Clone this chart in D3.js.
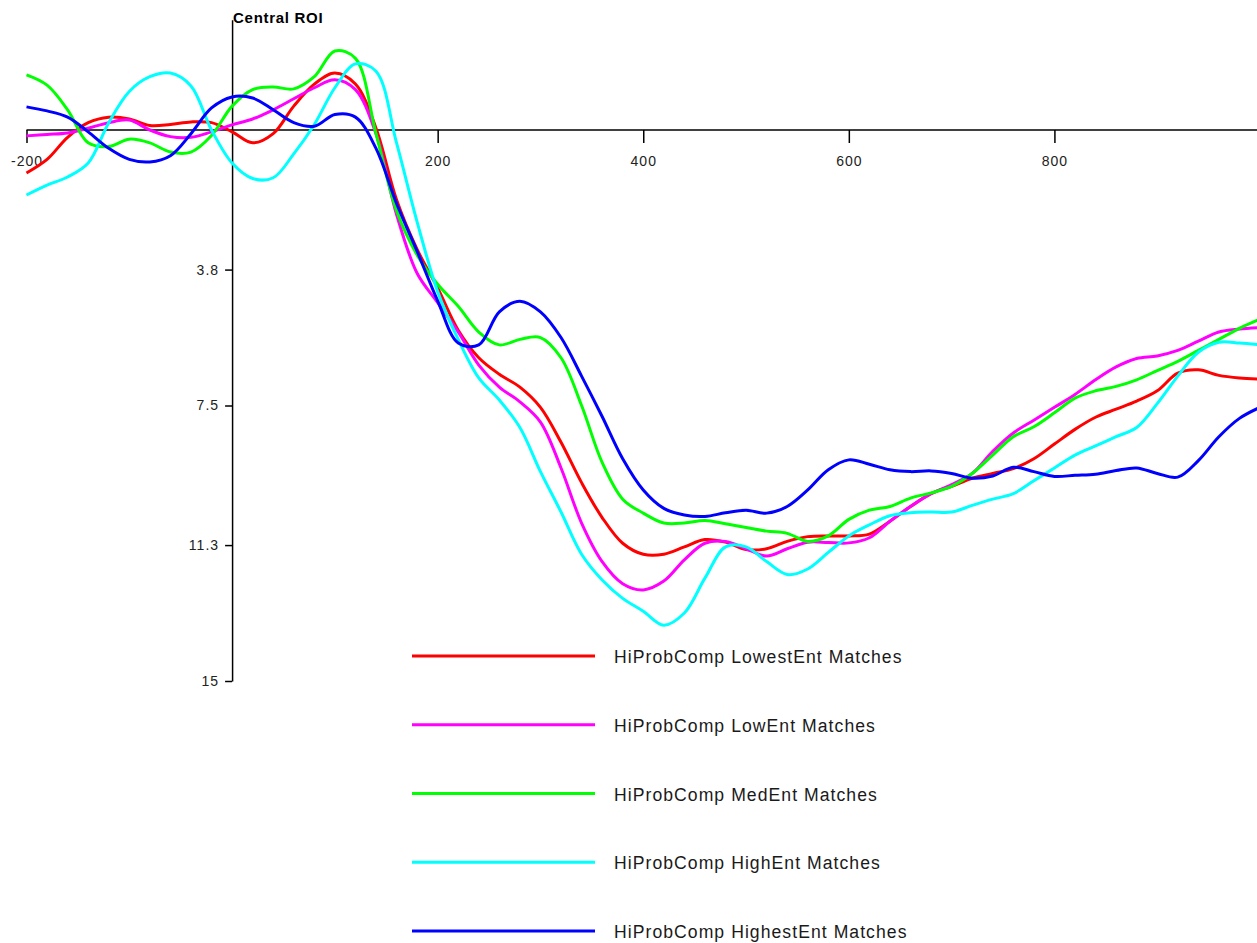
<!DOCTYPE html>
<html>
<head>
<meta charset="utf-8">
<script src="https://cdn.jsdelivr.net/npm/d3@7/dist/d3.min.js"></script>
<style>
  html, body { margin: 0; padding: 0; background: #fff; }
  svg { display: block; font-family: "Liberation Sans", Arial, Helvetica, sans-serif; }
</style>
</head>
<body>
<svg id="chart" width="1257" height="943"></svg>
<script>
// Sample times (ms), one value per 20 ms
const times = d3.range(-200, 1001, 20);

const seriesNames = [
  "HiProbComp LowestEnt Matches",
  "HiProbComp LowEnt Matches",
  "HiProbComp MedEnt Matches",
  "HiProbComp HighEnt Matches",
  "HiProbComp HighestEnt Matches"
];
const seriesColors = ["#ff0000", "#ff00ff", "#00ff00", "#00ffff", "#0000ff"];

// Amplitudes (µV), positive plotted downward
const lowestEnt = [1.17, 0.8, 0.2, -0.2, -0.35, -0.3, -0.12, -0.15, -0.22, -0.2,
  0.05, 0.35, 0.1, -0.65, -1.25, -1.55, -1.25, -0.05, 1.9, 3.25,
  4.3, 5.45, 6.2, 6.65, 7.0, 7.55, 8.5, 9.6, 10.55, 11.25,
  11.55, 11.55, 11.35, 11.15, 11.22, 11.42, 11.4, 11.2, 11.07, 11.05,
  11.05, 11.0, 10.65, 10.25, 9.9, 9.7, 9.48, 9.35, 9.22, 8.95,
  8.55, 8.15, 7.82, 7.6, 7.38, 7.1, 6.62, 6.53, 6.68, 6.75, 6.78];

const lowEnt = [0.16, 0.12, 0.08, -0.05, -0.2, -0.27, 0.0, 0.18, 0.2, 0.05,
  -0.14, -0.3, -0.55, -0.85, -1.15, -1.37, -1.1, 0.1, 2.3, 3.9,
  4.7, 5.5, 6.4, 7.0, 7.4, 7.95, 9.2, 10.7, 11.75, 12.35,
  12.52, 12.28, 11.7, 11.25, 11.2, 11.4, 11.6, 11.4, 11.22, 11.23,
  11.24, 11.1, 10.65, 10.25, 9.9, 9.65, 9.35, 8.75, 8.25, 7.9,
  7.55, 7.2, 6.8, 6.45, 6.22, 6.15, 6.0, 5.75, 5.5, 5.42, 5.38];

const medEnt = [-1.5, -1.22, -0.55, 0.35, 0.45, 0.25, 0.35, 0.6, 0.6, 0.15,
  -0.65, -1.1, -1.17, -1.12, -1.45, -2.15, -1.95, 0.1, 2.2, 3.4,
  4.2, 4.8, 5.5, 5.85, 5.7, 5.65, 6.2, 7.5, 9.05, 10.05,
  10.43, 10.7, 10.7, 10.63, 10.72, 10.82, 10.92, 10.98, 11.2, 11.05,
  10.6, 10.35, 10.25, 10.02, 9.88, 9.7, 9.35, 8.85, 8.35, 8.08,
  7.7, 7.3, 7.1, 6.98, 6.8, 6.55, 6.3, 6.0, 5.7, 5.4, 5.15];

const highEnt = [1.77, 1.5, 1.28, 0.9, -0.2, -1.05, -1.45, -1.55, -1.2, 0.0,
  0.9, 1.32, 1.3, 0.65, -0.15, -1.15, -1.8, -1.6, 0.35, 2.5,
  4.4, 5.7, 6.75, 7.35, 8.1, 9.3, 10.4, 11.55, 12.25, 12.75,
  13.1, 13.48, 13.15, 12.2, 11.35, 11.35, 11.75, 12.1, 11.95, 11.5,
  11.05, 10.75, 10.5, 10.42, 10.4, 10.4, 10.22, 10.05, 9.9, 9.55,
  9.2, 8.85, 8.6, 8.35, 8.1, 7.45, 6.7, 6.05, 5.78, 5.8, 5.85];

const highestEnt = [-0.63, -0.52, -0.35, 0.05, 0.5, 0.8, 0.87, 0.7, 0.1, -0.6,
  -0.9, -0.87, -0.55, -0.2, -0.1, -0.42, -0.35, 0.5, 2.0, 3.3,
  4.65, 5.8, 5.85, 4.95, 4.66, 4.95, 5.65, 6.7, 7.8, 8.95,
  9.8, 10.3, 10.48, 10.52, 10.42, 10.35, 10.43, 10.25, 9.8, 9.25,
  8.98, 9.1, 9.25, 9.3, 9.28, 9.35, 9.48, 9.42, 9.18, 9.3,
  9.43, 9.4, 9.37, 9.27, 9.2, 9.35, 9.45, 9.0, 8.35, 7.85, 7.55];

const xTicks = [-200, 200, 400, 600, 800];
const xTickLabels = ["-200", "200", "400", "600", "800"];
const yTicks = [3.8, 7.5, 11.3, 15];
const yTickLabels = ["3.8", "7.5", "11.3", "15"];

const seriesValues = [lowestEnt, lowEnt, medEnt, highEnt, highestEnt];

const svg = d3.select("#chart");

// Scales: time axis and inverted amplitude axis (negative up)
const x = d3.scaleLinear().domain([-200, 1000]).range([26.5, 1260]);
const y = d3.scaleLinear().domain([-3, 15]).range([19.8, 681]);

const labelFont = "Liberation Sans, Arial, sans-serif";

// Horizontal axis through zero
const xAxis = d3.axisBottom(x)
  .tickValues(xTicks)
  .tickSize(13)
  .tickSizeOuter(0)
  .tickPadding(13)
  .tickFormat((d, i) => xTickLabels[i]);

const gx = svg.append("g")
  .attr("transform", `translate(0,${y(0)})`)
  .call(xAxis);
gx.select(".domain").attr("d", `M${x(-200)},0H1257`).attr("stroke", "#000").attr("stroke-width", 1.5);
gx.selectAll(".tick line").attr("stroke", "#000").attr("stroke-width", 1.5);
gx.selectAll(".tick text")
  .attr("font-size", 14)
  .attr("letter-spacing", "1px")
  .attr("fill", "#222")
  .attr("font-family", labelFont);

// Vertical axis at time zero
const yAxis = d3.axisLeft(y)
  .tickValues(yTicks)
  .tickSize(7)
  .tickSizeOuter(0)
  .tickPadding(6)
  .tickFormat((d, i) => yTickLabels[i]);

const gy = svg.append("g")
  .attr("transform", `translate(${x(0)},0)`)
  .call(yAxis);
gy.select(".domain").attr("stroke", "#000").attr("stroke-width", 1.5);
gy.selectAll(".tick line").attr("stroke", "#000").attr("stroke-width", 1.5);
gy.selectAll(".tick text")
  .attr("font-size", 14)
  .attr("letter-spacing", "1px")
  .attr("fill", "#222")
  .attr("font-family", labelFont);

// Title
svg.append("text")
  .attr("x", x(0) + 1)
  .attr("y", 23)
  .attr("font-size", 15)
  .attr("font-weight", "bold")
  .attr("letter-spacing", "0.7px")
  .attr("fill", "#000")
  .text("Central ROI");

// Waveforms
const line = d3.line()
  .x((d, i) => x(times[i]))
  .y(d => y(d))
  .curve(d3.curveCatmullRom.alpha(0.5));

svg.append("g")
  .selectAll("path")
  .data(seriesValues)
  .join("path")
  .attr("d", d => line(d))
  .attr("fill", "none")
  .attr("stroke", (d, i) => seriesColors[i])
  .attr("stroke-width", 3)
  .attr("stroke-linejoin", "round");

// Legend
const legend = svg.append("g");
const legendY = d3.scaleLinear().domain([0, 4]).range([656, 931]);
seriesNames.forEach((name, i) => {
  legend.append("line")
    .attr("x1", 412).attr("x2", 595)
    .attr("y1", legendY(i)).attr("y2", legendY(i))
    .attr("stroke", seriesColors[i])
    .attr("stroke-width", 3);
  legend.append("text")
    .attr("x", 614)
    .attr("y", legendY(i))
    .attr("dy", "0.4em")
    .attr("font-size", 17.6)
    .attr("letter-spacing", "1.05px")
    .attr("fill", "#1a1a1a")
    .text(name);
});
</script>
</body>
</html>
